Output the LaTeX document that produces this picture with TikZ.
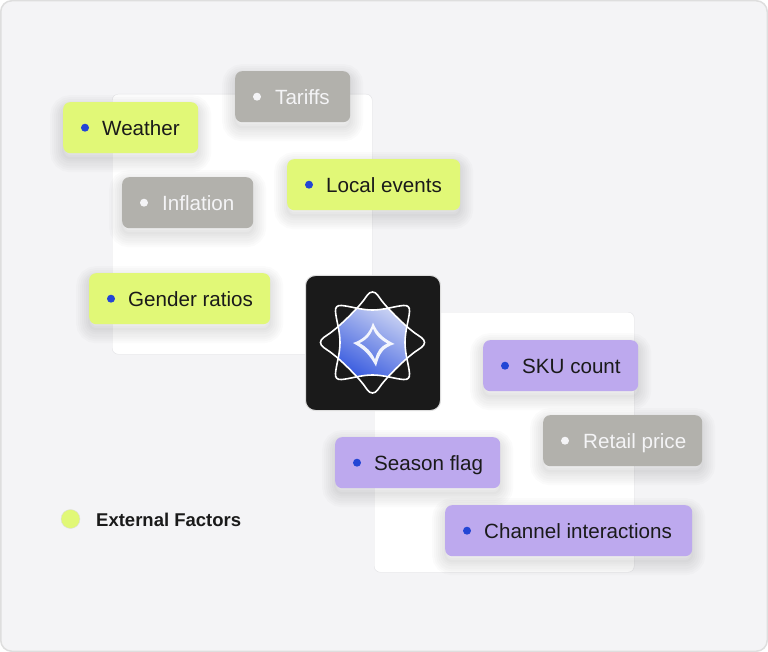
\documentclass[tikz,border=0pt]{standalone}
\usepackage{fontspec}
\setmainfont{Liberation Sans}
\definecolor{pagebg}{HTML}{F4F4F6}
\definecolor{edgegray}{HTML}{DEDEDE}
\definecolor{panelline}{HTML}{E2E2E5}
\definecolor{limechip}{HTML}{E1F877}
\definecolor{graychip}{HTML}{B2B1AC}
\definecolor{purplechip}{HTML}{BDA9EE}
\definecolor{bluedot}{HTML}{2346D5}
\definecolor{inkblack}{HTML}{1A1A1A}
\definecolor{logoblack}{HTML}{1A1A1A}
\definecolor{logolight}{HTML}{D2D9F4}
\definecolor{logomid}{HTML}{7391E8}
\definecolor{logodark}{HTML}{3054DE}
\def\squarepath{(0,-32.5) .. controls (-12,-32.5) and (-23,-36.5) .. (-31,-37) .. controls (-35.5,-37.3) and (-37.3,-35.5) .. (-37,-31) .. controls (-36.5,-23) and (-32.5,-12) .. (-32.5,0) .. controls (-32.5,12) and (-36.5,23) .. (-37,31) .. controls (-37.3,35.5) and (-35.5,37.3) .. (-31,37) .. controls (-23,36.5) and (-12,32.5) .. (0,32.5) .. controls (12,32.5) and (23,36.5) .. (31,37) .. controls (35.5,37.3) and (37.3,35.5) .. (37,31) .. controls (36.5,23) and (32.5,12) .. (32.5,0) .. controls (32.5,-12) and (36.5,-23) .. (37,-31) .. controls (37.3,-35.5) and (35.5,-37.3) .. (31,-37) .. controls (23,-36.5) and (12,-32.5) .. (0,-32.5) -- cycle}
\def\diamondpath{(0,-50.5) .. controls (-4,-50.5) and (-6,-46) .. (-9,-42) .. controls (-16,-33) and (-33,-16) .. (-43,-9) .. controls (-47,-6) and (-52,-4) .. (-52,0) .. controls (-52,4) and (-47,6) .. (-43,9) .. controls (-33,16) and (-16,33) .. (-9,42) .. controls (-6,46) and (-4,50.5) .. (0,50.5) .. controls (4,50.5) and (6,46) .. (9,42) .. controls (16,33) and (33,16) .. (43,9) .. controls (47,6) and (52,4) .. (52,0) .. controls (52,-4) and (47,-6) .. (43,-9) .. controls (33,-16) and (16,-33) .. (9,-42) .. controls (6,-46) and (4,-50.5) .. (0,-50.5) -- cycle}
\begin{document}
\begin{tikzpicture}
    [x=1pt,y=-1pt,
        softshadow/.style={
            preaction={draw=black,fill=none,draw opacity=.014,line width=26pt,transform canvas={yshift=-6pt}},
            preaction={draw=black,fill=none,draw opacity=.014,line width=22pt,transform canvas={yshift=-6pt}},
            preaction={draw=black,fill=none,draw opacity=.014,line width=18pt,transform canvas={yshift=-6pt}},
            preaction={draw=black,fill=none,draw opacity=.014,line width=14pt,transform canvas={yshift=-6pt}},
            preaction={draw=black,fill=none,draw opacity=.014,line width=10pt,transform canvas={yshift=-5pt}},
            preaction={draw=black,fill=none,draw opacity=.014,line width=6pt,transform canvas={yshift=-5pt}},
            preaction={draw=black,fill=none,draw opacity=.014,line width=2pt,transform canvas={yshift=-5pt}},
        },
        panel/.style={rectangle,draw=panelline,fill=white,rounded corners=6pt,minimum size=260pt,inner sep=0pt,anchor=north west},
        chip/.style={rectangle,rounded corners=7pt,minimum height=51pt,inner sep=0pt,anchor=north west,softshadow},
        limebox/.style={chip,fill=limechip},
        graybox/.style={chip,fill=graychip},
        purplebox/.style={chip,fill=purplechip},
        chiptext/.style={anchor=base west,yshift=-7.5pt,inner sep=0pt,font=\fontsize{20.6}{25}\selectfont,text=inkblack},
        graytext/.style={chiptext,text=pagebg},
        bluedotnode/.style={circle,fill=bluedot,minimum size=8pt,inner sep=0pt},
        whitedotnode/.style={circle,fill=pagebg,minimum size=8pt,inner sep=0pt},
    ]
\useasboundingbox (0,0) rectangle (768,652);
\fill[white] (0,0) rectangle (768,652);
\draw[fill=pagebg,draw=edgegray,line width=1.5pt,rounded corners=11pt] (0.75,0.75) rectangle (767.25,651.25);
% panels
\node[panel] (panelleft) at (112,94) {};
\node[panel] (panelright) at (374,312) {};
% left chips
\node[graybox,minimum width=115pt] (tariffs) at (235,71) {};
\node[whitedotnode] (tariffsdot) at ([xshift=22pt]tariffs.west) {};
\node[graytext] (tariffstext) at ([xshift=40pt]tariffs.west) {Tariffs};
\node[limebox,minimum width=135pt] (weather) at (63,102) {};
\node[bluedotnode] (weatherdot) at ([xshift=22pt]weather.west) {};
\node[chiptext] (weathertext) at ([xshift=39pt]weather.west) {Weather};
\node[graybox,minimum width=131pt] (inflation) at (122,177) {};
\node[whitedotnode] (inflationdot) at ([xshift=22pt]inflation.west) {};
\node[graytext] (inflationtext) at ([xshift=40pt]inflation.west) {Inflation};
\node[limebox,minimum width=173pt] (localevents) at (287,159) {};
\node[bluedotnode] (localeventsdot) at ([xshift=22pt]localevents.west) {};
\node[chiptext] (localeventstext) at ([xshift=39pt]localevents.west) {Local events};
\node[limebox,minimum width=181pt] (gender) at (89,273) {};
\node[bluedotnode] (genderdot) at ([xshift=22pt]gender.west) {};
\node[chiptext] (gendertext) at ([xshift=39pt]gender.west) {Gender ratios};
% right chips
\node[purplebox,minimum width=155pt] (sku) at (483,340) {};
\node[bluedotnode] (skudot) at ([xshift=22pt]sku.west) {};
\node[chiptext] (skutext) at ([xshift=39pt]sku.west) {SKU count};
\node[graybox,minimum width=159pt] (retail) at (543,415) {};
\node[whitedotnode] (retaildot) at ([xshift=22pt]retail.west) {};
\node[graytext] (retailtext) at ([xshift=40pt]retail.west) {Retail price};
\node[purplebox,minimum width=165pt] (season) at (335,437) {};
\node[bluedotnode] (seasondot) at ([xshift=22pt]season.west) {};
\node[chiptext] (seasontext) at ([xshift=39pt]season.west) {Season flag};
\node[purplebox,minimum width=247pt] (channel) at (445,505) {};
\node[bluedotnode] (channeldot) at ([xshift=22pt]channel.west) {};
\node[chiptext] (channeltext) at ([xshift=39pt]channel.west) {Channel interactions};
% logo
\node[rectangle,draw=edgegray,line width=1pt,fill=logoblack,rounded corners=10pt,minimum size=135pt,inner sep=0pt,anchor=north west] (logo) at (305,275) {};
\begin{scope}[shift={(372.5,342.5)}]
\begin{scope}
\clip \squarepath;
\clip \diamondpath;
\shade[bottom color=logodark,middle color=logomid,top color=logolight,shading angle=-30] (-42,42) rectangle (42,-42);
\end{scope}
\draw[white,line width=1.6pt] \squarepath;
\draw[white,line width=1.6pt] \diamondpath;
\fill[white,opacity=.9,even odd rule] (0.5,-20) .. controls (5,-9) and (11,-4) .. (22,1.5) .. controls (11,5) and (7,10) .. (3.5,24) .. controls (-3,12) and (-9,6) .. (-19.5,0.5) .. controls (-9,-3) and (-3,-9) .. (0.5,-20) -- cycle
    (0.5,-14) .. controls (3,-7) and (8,-3) .. (15,1) .. controls (8,4) and (5,8) .. (2.5,17) .. controls (-1,9) and (-6,4.5) .. (-13,0.5) .. controls (-6,-2.5) and (-2,-7) .. (0.5,-14) -- cycle;
\end{scope}
% legend
\node[circle,fill=limechip,draw=edgegray,minimum size=19pt,inner sep=0pt] (legenddot) at (70.5,519) {};
\node[anchor=base west,inner sep=0pt,font=\fontsize{18.5}{22}\selectfont\bfseries,text=inkblack] (legendtext) at (96,526.5) {External Factors};
\end{tikzpicture}
\end{document}
